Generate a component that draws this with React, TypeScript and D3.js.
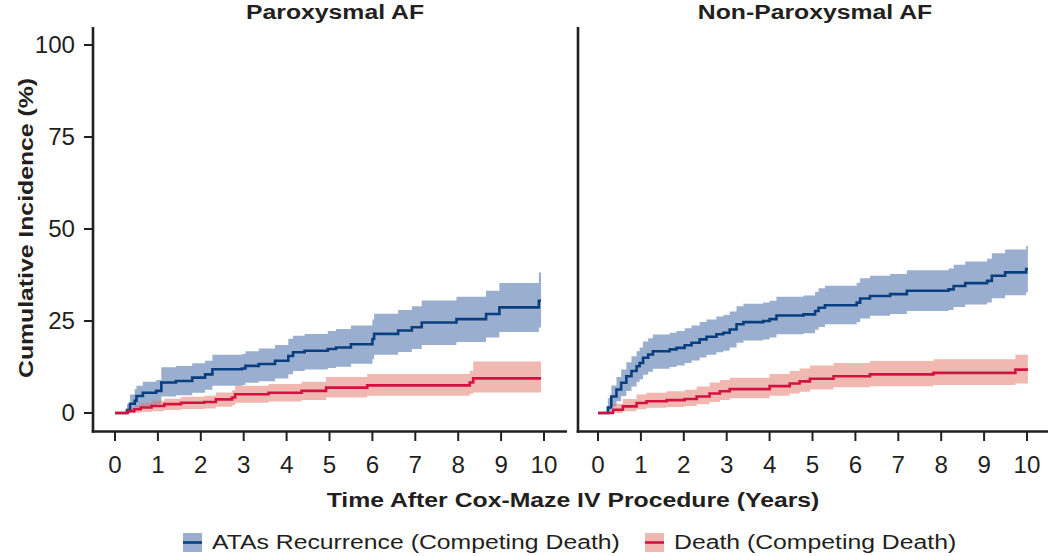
import { useEffect, useRef } from 'react'
import * as d3 from 'd3'

// Paroxysmal AF - ATAs recurrence (competing death)
const parAtaTime = [0, 0.28, 0.35, 0.46, 0.5, 0.65, 0.96, 1.08, 1.42, 1.8, 2.1, 2.27, 2.96, 3.04, 3.35, 3.73, 4.04, 4.15, 4.42, 4.96, 5.15, 5.5, 6.0, 6.04, 6.6, 6.92, 7.15, 7.96, 8.65, 8.96, 9.88, 9.93]
const parAtaEst = [0, 0.8, 2.5, 3.3, 4.6, 5.5, 6.0, 8.3, 8.7, 9.6, 10.5, 11.9, 12.1, 12.8, 13.3, 14.2, 15.5, 16.5, 16.9, 17.4, 17.8, 18.7, 20.1, 21.5, 22.4, 23.3, 24.6, 25.5, 26.9, 28.7, 30.5, 30.5]
const parAtaLow = [0, 0, 0.3, 0.8, 1.2, 1.8, 2.3, 4.5, 4.8, 5.5, 6.3, 7.4, 7.6, 8.2, 8.6, 9.4, 10.5, 11.4, 11.8, 12.2, 12.6, 13.4, 14.6, 15.8, 16.6, 17.4, 18.5, 19.3, 20.5, 22.0, 23.2, 23.2]
const parAtaHigh = [0, 2.5, 5.0, 6.5, 7.4, 8.5, 9.0, 12.4, 12.8, 13.5, 14.2, 15.8, 16.0, 16.8, 17.5, 18.5, 20.2, 21.0, 21.5, 22.3, 22.8, 23.8, 25.4, 27.0, 28.0, 29.0, 30.6, 31.6, 33.2, 35.3, 38.2, 38.2]

// Paroxysmal AF - death
const parDeathTime = [0, 0.3, 0.45, 0.6, 0.85, 1.15, 1.54, 2.08, 2.35, 2.73, 2.8, 3.58, 4.35, 4.92, 5.88, 8.27, 8.35, 9.93]
const parDeathEst = [0, 0.5, 1.0, 1.5, 1.9, 2.4, 2.8, 3.0, 3.7, 4.2, 5.1, 5.5, 6.0, 6.9, 7.5, 8.3, 9.4, 9.4]
const parDeathLow = [0, 0, 0.1, 0.3, 0.5, 0.8, 1.1, 1.2, 1.7, 2.1, 2.8, 3.1, 3.5, 4.2, 4.7, 5.2, 5.6, 5.6]
const parDeathHigh = [0, 1.2, 2.0, 2.7, 3.3, 3.9, 4.4, 4.7, 5.6, 6.2, 7.4, 7.9, 8.5, 9.8, 10.6, 11.5, 14.0, 14.0]

// Non-paroxysmal AF - ATAs recurrence (competing death)
const nonAtaTime = [0, 0.23, 0.31, 0.43, 0.54, 0.66, 0.78, 0.9, 0.97, 1.05, 1.17, 1.28, 1.67, 1.83, 2.02, 2.18, 2.37, 2.53, 2.76, 2.92, 3.07, 3.23, 3.39, 3.85, 4.0, 4.16, 4.79, 5.06, 5.14, 5.29, 6.03, 6.11, 6.34, 6.81, 7.2, 8.17, 8.29, 8.56, 9.07, 9.18, 9.49, 9.98, 10.02]
const nonAtaEst = [0, 1.5, 4.5, 6.4, 8.2, 10.0, 11.4, 12.7, 13.6, 15.0, 15.9, 16.8, 17.3, 17.7, 18.4, 19.1, 20.0, 20.7, 21.4, 21.8, 22.7, 24.1, 24.7, 25.0, 25.5, 26.5, 26.8, 27.7, 28.6, 29.3, 30.0, 31.1, 31.8, 32.3, 33.2, 33.6, 34.5, 35.3, 35.9, 37.3, 38.2, 39.1, 39.1]
const nonAtaLow = [0, 0, 1.8, 3.2, 4.6, 6.0, 7.2, 8.4, 9.2, 10.4, 11.2, 12.0, 12.5, 12.9, 13.6, 14.3, 15.1, 15.8, 16.5, 16.9, 17.8, 19.1, 19.7, 20.0, 20.5, 21.4, 21.7, 22.6, 23.4, 24.1, 24.7, 25.7, 26.4, 26.9, 27.7, 28.0, 28.8, 29.5, 30.0, 31.2, 32.0, 32.8, 32.8]
const nonAtaHigh = [0, 4.0, 7.5, 9.8, 11.8, 13.8, 15.4, 16.8, 17.8, 19.4, 20.3, 21.3, 21.8, 22.3, 23.0, 23.8, 24.7, 25.4, 26.2, 26.6, 27.6, 29.0, 29.7, 30.0, 30.5, 31.6, 31.9, 32.9, 33.9, 34.6, 35.4, 36.6, 37.3, 37.8, 38.8, 39.3, 40.3, 41.2, 41.9, 43.4, 44.4, 45.4, 45.4]

// Non-paroxysmal AF - death
const nonDeathTime = [0, 0.35, 0.58, 0.9, 1.13, 1.6, 2.02, 2.3, 2.6, 2.84, 3.07, 4.0, 4.47, 4.7, 4.94, 5.49, 6.34, 7.82, 9.73, 10.02]
const nonDeathEst = [0, 0.9, 1.8, 2.7, 3.2, 3.5, 3.8, 4.5, 5.3, 5.9, 6.5, 7.3, 8.0, 8.6, 9.3, 10.0, 10.5, 10.9, 11.8, 11.8]
const nonDeathLow = [0, 0, 0.5, 1.0, 1.4, 1.6, 1.9, 2.4, 3.0, 3.5, 4.0, 4.7, 5.3, 5.8, 6.4, 7.0, 7.3, 7.6, 8.0, 8.0]
const nonDeathHigh = [0, 2.5, 3.8, 5.0, 5.5, 5.9, 6.3, 7.2, 8.3, 9.0, 9.6, 10.6, 11.4, 12.1, 12.9, 13.6, 14.1, 14.6, 15.8, 15.8]

const xTicks = [0, 1, 2, 3, 4, 5, 6, 7, 8, 9, 10]
const yTicks = [0, 25, 50, 75, 100]
const panelTitles = ['Paroxysmal AF', 'Non-Paroxysmal AF']
const legendLabels = ['ATAs Recurrence (Competing Death)', 'Death (Competing Death)']

const FONT = '"Liberation Sans", Arial, Helvetica, sans-serif'
const INK = '#231f20'
const SX = 1.18
const BLUE_LINE = '#0a3f7f'
const BLUE_BAND = '#355da1'
const RED_LINE = '#d31241'
const RED_BAND = '#e17161'

const zip = (t, e, lo, hi) => t.map((d, i) => ({ t: d, v: e[i], lo: lo[i], hi: hi[i] }))

export default function App() {
  const svgRef = useRef(null)

  useEffect(() => {
    const width = 1050, height = 556
    d3.select(svgRef.current).selectAll('*').remove()

    const svg = d3.select(svgRef.current)
      .attr('width', width)
      .attr('height', height)
      .style('background', 'white')

    const addText = (str, x, y, size, weight, anchor, rotate = false, sx = SX) =>
      svg.append('text')
        .attr('transform', `translate(${x},${y})${rotate ? ' rotate(-90)' : ''} scale(${sx},1)`)
        .attr('text-anchor', anchor)
        .attr('font-family', FONT)
        .attr('font-size', size)
        .attr('font-weight', weight)
        .attr('fill', INK)
        .text(str)

    const y = d3.scaleLinear().domain([0, 100]).range([413, 45])

    const panels = [
      {
        title: panelTitles[0], titleX: 335, left: 93, right: 567, yLabels: true,
        x: d3.scaleLinear().domain([0, 10]).range([115, 544]),
        ata: zip(parAtaTime, parAtaEst, parAtaLow, parAtaHigh),
        death: zip(parDeathTime, parDeathEst, parDeathLow, parDeathHigh)
      },
      {
        title: panelTitles[1], titleX: 815, left: 578, right: 1048, yLabels: false,
        x: d3.scaleLinear().domain([0, 10]).range([598, 1027]),
        ata: zip(nonAtaTime, nonAtaEst, nonAtaLow, nonAtaHigh),
        death: zip(nonDeathTime, nonDeathEst, nonDeathLow, nonDeathHigh)
      }
    ]

    const axisY = 431.5

    panels.forEach(p => {
      const area = d3.area()
        .x(d => p.x(d.t)).y0(d => y(d.lo)).y1(d => y(d.hi))
        .curve(d3.curveStepAfter)
      const line = d3.line()
        .x(d => p.x(d.t)).y(d => y(d.v))
        .curve(d3.curveStepAfter)

      // confidence bands
      svg.append('path').attr('d', area(p.ata)).attr('fill', BLUE_BAND).attr('fill-opacity', 0.5)
      svg.append('path').attr('d', area(p.death)).attr('fill', RED_BAND).attr('fill-opacity', 0.5)

      // estimates
      svg.append('path').attr('d', line(p.ata)).attr('fill', 'none')
        .attr('stroke', BLUE_LINE).attr('stroke-width', 2.6)
      svg.append('path').attr('d', line(p.death)).attr('fill', 'none')
        .attr('stroke', RED_LINE).attr('stroke-width', 2.6)

      // axes
      svg.append('line')
        .attr('x1', p.left).attr('x2', p.left).attr('y1', 27).attr('y2', axisY + 1.2)
        .attr('stroke', INK).attr('stroke-width', 2.6)
      svg.append('line')
        .attr('x1', p.left - 1.3).attr('x2', p.right).attr('y1', axisY).attr('y2', axisY)
        .attr('stroke', INK).attr('stroke-width', 2.6)

      xTicks.forEach(t => {
        svg.append('line')
          .attr('x1', p.x(t)).attr('x2', p.x(t)).attr('y1', axisY).attr('y2', 441)
          .attr('stroke', INK).attr('stroke-width', 2)
        addText(String(t), p.x(t), 473, 23, 'normal', 'middle', false, 1.05)
      })

      if (p.yLabels) {
        yTicks.forEach(v => {
          svg.append('line')
            .attr('x1', 84).attr('x2', p.left).attr('y1', y(v)).attr('y2', y(v))
            .attr('stroke', INK).attr('stroke-width', 2)
          addText(String(v), 75, y(v) + 8.3, 23, 'normal', 'end', false, 1.05)
        })
      }

      addText(p.title, p.titleX, 18.5, 21, 'bold', 'middle')
    })

    addText('Cumulative Incidence (%)', 33, 228, 21, 'bold', 'middle', true)
    addText('Time After Cox-Maze IV Procedure (Years)', 573, 506.5, 21, 'bold', 'middle')

    // legend
    const legend = [
      { label: legendLabels[0], x: 183, band: BLUE_BAND, line: BLUE_LINE },
      { label: legendLabels[1], x: 645, band: RED_BAND, line: RED_LINE }
    ]
    legend.forEach(l => {
      svg.append('rect')
        .attr('x', l.x).attr('y', 533).attr('width', 19).attr('height', 19)
        .attr('fill', l.band).attr('fill-opacity', 0.5)
      svg.append('line')
        .attr('x1', l.x).attr('x2', l.x + 19).attr('y1', 542.5).attr('y2', 542.5)
        .attr('stroke', l.line).attr('stroke-width', 2.6)
      addText(l.label, l.x + 29, 548.5, 21, 'normal', 'start')
    })
  }, [])

  return (
    <div style={{ position: 'absolute', left: 0, top: 0 }}>
      <svg ref={svgRef} style={{ display: 'block' }} />
    </div>
  )
}
